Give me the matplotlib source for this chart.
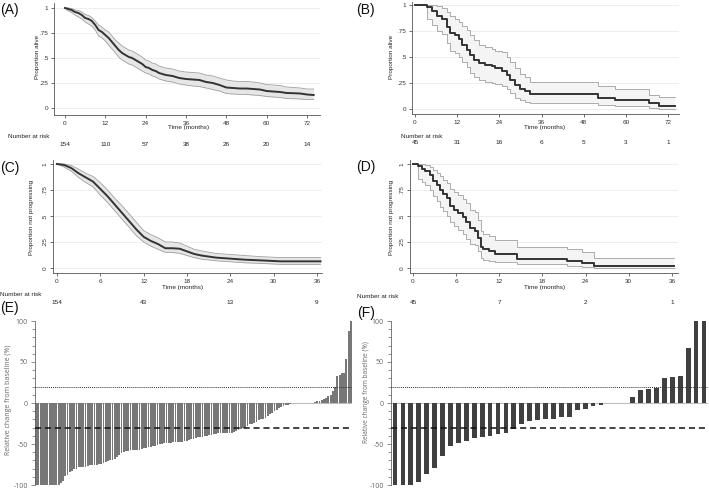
import matplotlib
matplotlib.use('Agg')
import matplotlib.pyplot as plt
from matplotlib.transforms import blended_transform_factory
import numpy as np

plt.rcParams['font.family'] = ['Liberation Sans', 'DejaVu Sans']
plt.rcParams['axes.unicode_minus'] = False

# ---------------- data ----------------
# Panel A: overall survival (all patients)
A_t  = [0, 1, 2, 3, 4, 5, 6, 7, 8, 9, 10, 11, 12, 13, 14, 15, 16, 17, 18, 19, 20, 21, 22, 23, 24, 25, 26, 27, 28,
        30, 32, 34, 36, 38, 40, 42, 44, 46, 48, 50, 52, 54, 56, 58, 60, 62, 64, 66, 68, 70, 72, 74]
A_s  = [1.0, 0.99, 0.98, 0.96, 0.95, 0.93, 0.90, 0.89, 0.87, 0.83, 0.78, 0.76, 0.73, 0.70, 0.66, 0.62, 0.58, 0.55, 0.53, 0.51,
        0.50, 0.48, 0.46, 0.44, 0.41, 0.40, 0.38, 0.37, 0.35,
        0.33, 0.32, 0.30, 0.29, 0.285, 0.28, 0.26, 0.25, 0.23, 0.205, 0.20, 0.195, 0.195, 0.19, 0.185, 0.17, 0.165, 0.16,
        0.15, 0.148, 0.145, 0.135, 0.13]
A_lo = [1.0, 0.97, 0.955, 0.93, 0.91, 0.89, 0.86, 0.84, 0.82, 0.78, 0.72, 0.70, 0.67, 0.63, 0.59, 0.55, 0.51, 0.48, 0.46, 0.44,
        0.43, 0.41, 0.39, 0.37, 0.35, 0.34, 0.32, 0.31, 0.29,
        0.27, 0.26, 0.24, 0.23, 0.22, 0.215, 0.20, 0.185, 0.17, 0.145, 0.14, 0.135, 0.135, 0.13, 0.125, 0.115, 0.11, 0.105,
        0.095, 0.093, 0.09, 0.085, 0.085]
A_hi = [1.0, 1.0, 0.995, 0.98, 0.975, 0.96, 0.935, 0.925, 0.905, 0.87, 0.83, 0.81, 0.78, 0.76, 0.72, 0.68, 0.65, 0.62, 0.60, 0.58,
        0.57, 0.55, 0.53, 0.51, 0.48, 0.47, 0.45, 0.44, 0.42,
        0.40, 0.39, 0.37, 0.36, 0.355, 0.35, 0.33, 0.32, 0.30, 0.28, 0.27, 0.265, 0.265, 0.26, 0.25, 0.235, 0.23, 0.225,
        0.21, 0.205, 0.20, 0.19, 0.19]
A_risk = [154, 110, 57, 38, 26, 20, 14]

# Panel B: overall survival (subgroup)
B_t  = [0, 3.4, 4.8, 6.2, 7.7, 9.1, 10.0, 11.4, 12.4, 13.3, 14.8, 15.7, 16.7, 18.1, 20.0, 21.9, 22.8, 24.7, 26.1, 27.1,
        28.5, 29.9, 31.3, 32.7, 52.0, 56.9, 66.6, 69.3, 74.0]
B_s  = [1.0, 0.98, 0.94, 0.89, 0.87, 0.79, 0.73, 0.71, 0.67, 0.62, 0.57, 0.52, 0.47, 0.44, 0.42, 0.41, 0.39, 0.37, 0.33, 0.28,
        0.23, 0.19, 0.17, 0.14, 0.11, 0.085, 0.055, 0.025, 0.025]
B_hi = [1.0, 1.0, 1.0, 0.99, 0.97, 0.93, 0.89, 0.87, 0.84, 0.80, 0.76, 0.71, 0.66, 0.62, 0.60, 0.58, 0.56, 0.55, 0.50, 0.45,
        0.39, 0.34, 0.31, 0.26, 0.22, 0.19, 0.13, 0.12, 0.12]
B_lo = [1.0, 0.87, 0.81, 0.75, 0.72, 0.63, 0.56, 0.54, 0.50, 0.45, 0.40, 0.35, 0.31, 0.28, 0.26, 0.25, 0.24, 0.22, 0.19, 0.15,
        0.11, 0.09, 0.07, 0.055, 0.04, 0.025, 0.012, 0.002, 0.002]
B_risk = [45, 31, 16, 6, 5, 3, 1]

# Panel C: progression-free (all patients)
C_t  = [0, 1, 2, 3, 4, 5, 6, 7, 8, 9, 10, 11, 12, 13, 14, 15, 16, 17, 18, 19, 20, 22, 24, 26, 28, 31, 36.5]
C_s  = [1.0, 0.99, 0.96, 0.91, 0.87, 0.83, 0.76, 0.69, 0.61, 0.53, 0.45, 0.37, 0.30, 0.26, 0.23, 0.19, 0.19, 0.185, 0.16,
        0.135, 0.12, 0.10, 0.09, 0.08, 0.074, 0.064, 0.064]
C_hi = [1.0, 1.0, 0.985, 0.95, 0.91, 0.88, 0.82, 0.75, 0.67, 0.60, 0.52, 0.44, 0.36, 0.32, 0.29, 0.25, 0.25, 0.24, 0.21,
        0.18, 0.165, 0.14, 0.13, 0.12, 0.11, 0.10, 0.10]
C_lo = [1.0, 0.97, 0.93, 0.87, 0.82, 0.78, 0.70, 0.63, 0.55, 0.47, 0.39, 0.31, 0.25, 0.21, 0.18, 0.15, 0.15, 0.14, 0.12,
        0.10, 0.085, 0.07, 0.06, 0.05, 0.045, 0.035, 0.035]
C_risk = [154, 43, 13, 9]

# Panel D: progression-free (subgroup)
D_t  = [0, 0.7, 1.2, 1.7, 2.3, 2.8, 3.3, 3.7, 4.2, 4.7, 5.1, 5.7, 6.3, 6.9, 7.4, 7.9, 8.6, 9.05, 9.4, 9.75, 10.5, 11.4,
        14.5, 21.4, 23.5, 25.1, 36.3]
D_s  = [1.0, 0.98, 0.955, 0.93, 0.89, 0.84, 0.80, 0.75, 0.71, 0.67, 0.60, 0.56, 0.53, 0.49, 0.44, 0.38, 0.36, 0.29, 0.20,
        0.18, 0.16, 0.13, 0.09, 0.07, 0.045, 0.023, 0.023]
D_hi = [1.0, 1.0, 1.0, 0.99, 0.97, 0.94, 0.91, 0.88, 0.85, 0.82, 0.76, 0.73, 0.70, 0.66, 0.62, 0.56, 0.54, 0.46, 0.36,
        0.33, 0.31, 0.27, 0.20, 0.18, 0.15, 0.10, 0.10]
D_lo = [1.0, 0.86, 0.83, 0.80, 0.75, 0.69, 0.64, 0.59, 0.55, 0.50, 0.44, 0.40, 0.37, 0.33, 0.28, 0.23, 0.22, 0.16, 0.10,
        0.08, 0.07, 0.06, 0.035, 0.02, 0.01, 0.002, 0.002]
D_risk = [45, 7, 2, 1]

# Panel E: waterfall (all patients)
E_vals = [-100, -100, -100, -100, -100, -100, -100, -100, -100, -100, -100,
          -97, -95, -89, -88, -84, -83, -81, -80,
          -78, -78, -78, -78, -77, -76, -76, -76, -75, -74, -74,
          -73, -72, -71, -70, -69, -68, -66, -63, -61,
          -60, -59, -58, -57, -57, -57, -57, -57, -56, -55, -55, -54,
          -54, -53, -52, -51, -50, -50, -49, -49, -49, -49, -48, -48, -48, -48,
          -47, -46, -46, -45, -44, -44, -43, -42, -42, -41,
          -40, -40, -39, -39, -38, -38, -37, -37, -37, -37, -36, -36, -36,
          -35, -34, -33, -32, -31, -30, -28, -26, -25, -24, -23,
          -21, -20, -19, -18, -16, -14, -12, -10,
          -8, -6, -5, -4, -3, -2, -1,
          0, 0, 0, 0, 0, 0, 0, 0, 0, 0,
          1, 2, 3, 4, 5, 6, 8, 10, 15, 20,
          33, 34, 36, 37, 54, 88, 100]

# Panel F: waterfall (subgroup)
F_vals = [-100, -100, -100, -96, -87, -79, -65, -53, -49, -46, -43, -42, -40, -38, -36, -32, -26, -22, -21, -19.5,
          -19, -16.6, -16.6, -8.5, -7.3, -3.6, -2.4, 0, 0, 0, 7, 16, 16.6, 17.8, 30, 31.6, 33, 67, 100, 100]

# ---------------- figure ----------------
W, H = 709, 490
fig = plt.figure(figsize=(W / 100, H / 100), dpi=100)


def ax_at(l, t, r, b):
    return fig.add_axes([l / W, 1 - b / H, (r - l) / W, (b - t) / H])


def ftext(x, y, s, **kw):
    fig.text(x / W, 1 - y / H, s, **kw)


FS = 4.6


def km(ax, t, s, lo, hi, fill, stepped, xticks, xlim, ylim, rot_y, ylabel, ylab_xy, xlab_xy,
       risk_lab_xy, risk, risk_x, risk_y):
    if stepped:
        ax.fill_between(t, lo, hi, step='post', color=fill, lw=0, zorder=1)
        ax.step(t, lo, where='post', color='#a0a0a0', lw=0.6, zorder=2)
        ax.step(t, hi, where='post', color='#a0a0a0', lw=0.6, zorder=2)
        ax.step(t, s, where='post', color='#333333', lw=1.4, zorder=3)
    else:
        ax.fill_between(t, lo, hi, color=fill, lw=0, zorder=1)
        ax.plot(t, lo, color='#a0a0a0', lw=0.6, zorder=2)
        ax.plot(t, hi, color='#a0a0a0', lw=0.6, zorder=2)
        ax.plot(t, s, color='#333333', lw=1.4, zorder=3)
    ax.set_xlim(xlim)
    ax.set_ylim(ylim)
    ax.set_xticks(xticks)
    ax.set_xticklabels([str(v) for v in xticks])
    yt = [0, 0.25, 0.5, 0.75, 1]
    ax.set_yticks(yt)
    if rot_y:
        ax.set_yticklabels(['0', '.25', '.5', '.75', '1'], rotation=90, va='center')
    else:
        ax.set_yticklabels(['0', '.25', '.5', '.75', '1'])
    for y in yt:
        ax.axhline(y, color='#ebebeb', lw=0.6, zorder=0)
    for sp in ['top', 'right']:
        ax.spines[sp].set_visible(False)
    for sp in ['left', 'bottom']:
        ax.spines[sp].set_color('#555555')
        ax.spines[sp].set_linewidth(0.6)
    ax.tick_params(labelsize=FS, length=2.5, width=0.5, pad=1.5, colors='#333333')
    ftext(ylab_xy[0], ylab_xy[1], ylabel, rotation=90, ha='center', va='center', fontsize=FS, color='#222222')
    ftext(xlab_xy[0], xlab_xy[1], 'Time (months)', ha='center', va='center', fontsize=FS, color='#222222')
    ftext(risk_lab_xy[0], risk_lab_xy[1], 'Number at risk', ha='left', va='center', fontsize=FS, color='#222222')
    tr = blended_transform_factory(ax.transData, fig.transFigure)
    for xv, n in zip(risk_x, risk):
        ax.text(xv, 1 - risk_y / H, str(n), transform=tr, ha='center', va='center', fontsize=FS,
                color='#222222', clip_on=False)


# A
axA = ax_at(54, 3, 320, 115)
km(axA, A_t, A_s, A_lo, A_hi, '#e6e6e6', False, [0, 12, 24, 36, 48, 60, 72], (-3.27, 75.9), (-0.07, 1.05), False,
   'Proportion alive', (38, 57), (189, 128), (8, 137), A_risk, [0, 12, 24, 36, 48, 60, 72], 144)
# B
axB = ax_at(412, 2, 679, 114)
km(axB, B_t, B_s, B_lo, B_hi, '#f4f4f4', True, [0, 12, 24, 36, 48, 60, 72], (-0.85, 75.1), (-0.048, 1.029), False,
   'Proportion alive', (391, 57), (545, 128), (401, 136), B_risk, [0, 12, 24, 36, 48, 60, 72], 143)
# C
axC = ax_at(53, 160, 322, 273)
km(axC, C_t, C_s, C_lo, C_hi, '#e6e6e6', False, [0, 6, 12, 18, 24, 30, 36], (-0.55, 36.7), (-0.048, 1.038), True,
   'Proportion not progressing', (32, 217), (183, 287), (0, 294), C_risk, [0, 12, 24, 36], 303)
# D
axD = ax_at(410, 160, 678, 273)
km(axD, D_t, D_s, D_lo, D_hi, '#f4f4f4', True, [0, 6, 12, 18, 24, 30, 36], (-0.42, 36.85), (-0.048, 1.038), True,
   'Proportion not progressing', (391, 217), (545, 287), (357, 296), D_risk, [0, 12, 24, 36], 303)


def waterfall(ax, vals, color, width, ylab_xy, fs_lab):
    x = np.arange(len(vals))
    ax.axhline(0, color='#bdbdbd', lw=0.8, zorder=1)
    ax.bar(x, vals, width=width, color=color, lw=0, zorder=2)
    ax.axhline(20, color='#333333', lw=0.7, ls=(0, (1, 1)), zorder=3)
    ax.axhline(-30, color='#111111', lw=1.1, ls=(0, (4, 2.5)), zorder=3)
    ax.set_xlim(-0.5, len(vals) - 0.5)
    ax.set_ylim(-100, 100)
    ax.set_xticks([])
    ax.set_yticks([-100, -50, 0, 50, 100])
    ax.set_yticks(np.arange(-100, 101, 10), minor=True)
    for sp in ['top', 'right', 'bottom']:
        ax.spines[sp].set_visible(False)
    ax.spines['left'].set_color('#666666')
    ax.spines['left'].set_linewidth(0.6)
    ax.tick_params(axis='y', which='major', labelsize=5, length=3, width=0.5, pad=2, colors='#666666')
    ax.tick_params(axis='y', which='minor', length=2, width=0.5, colors='#666666')
    for lab in ax.get_yticklabels():
        lab.set_family(['Open Sans', 'DejaVu Sans'])
    ftext(ylab_xy[0], ylab_xy[1], 'Relative change from baseline (%)', rotation=90, ha='center', va='center',
          fontsize=fs_lab, color='#666666', family=['Open Sans', 'DejaVu Sans'])


axE = ax_at(35, 321, 352, 485)
waterfall(axE, E_vals, '#777777', 0.8, (9, 400), 5)
axF = ax_at(391, 321, 708, 485)
waterfall(axF, F_vals, '#404040', 0.6, (367, 392), 4.7)

for lab, (x, y) in zip(['(A)', '(B)', '(C)', '(D)', '(E)', '(F)'],
                       [(0, 10), (356, 10), (0, 168), (356, 167), (0, 308), (357, 313)]):
    ftext(x, y, lab, ha='left', va='center', fontsize=10, color='#111111')

fig.savefig('out.png', dpi=100)
